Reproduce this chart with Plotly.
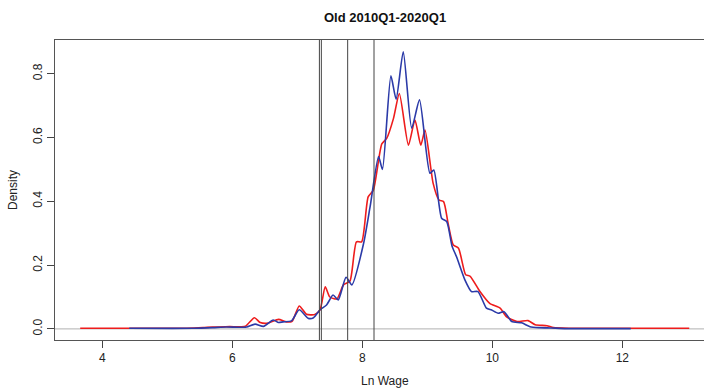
import plotly.graph_objects as go

# ---- data ----
red_x = [3.66, 4.5, 5.3, 5.55, 5.7, 5.96, 6.2, 6.34, 6.43, 6.55, 6.71, 6.83, 6.92, 7.03, 7.14,
         7.27, 7.35, 7.43, 7.50, 7.61, 7.71, 7.81, 7.91, 7.99, 8.09, 8.17, 8.30, 8.375, 8.48,
         8.57, 8.71, 8.81, 8.90, 8.965, 9.09, 9.18, 9.25, 9.32, 9.40, 9.48, 9.59, 9.66, 9.81,
         9.96, 10.12, 10.22, 10.38, 10.55, 10.66, 10.84, 10.94, 11.2, 12.0, 13.03]
red_y = [0.002, 0.002, 0.002, 0.004, 0.006, 0.007, 0.008, 0.035, 0.020, 0.018, 0.030, 0.022,
         0.024, 0.072, 0.046, 0.045, 0.060, 0.132, 0.100, 0.094, 0.138, 0.150, 0.273, 0.273,
         0.414, 0.435, 0.580, 0.597, 0.660, 0.738, 0.576, 0.655, 0.576, 0.623, 0.456, 0.404,
         0.399, 0.331, 0.263, 0.253, 0.170, 0.165, 0.117, 0.080, 0.065, 0.038, 0.023, 0.026,
         0.013, 0.010, 0.004, 0.002, 0.002, 0.002]

blue_x = [4.415, 5.4, 5.7, 5.91, 6.1, 6.22, 6.35, 6.48, 6.63, 6.71, 6.78, 6.91, 7.03, 7.17,
          7.25, 7.35, 7.45, 7.55, 7.63, 7.75, 7.84, 8.02, 8.12, 8.25, 8.31, 8.44, 8.52, 8.63,
          8.76, 8.88, 9.04, 9.10, 9.22, 9.30, 9.38, 9.45, 9.58, 9.68, 9.78, 9.91, 9.99, 10.09,
          10.18, 10.30, 10.45, 10.58, 10.73, 10.9, 11.14, 12.13]
blue_y = [0.002, 0.002, 0.004, 0.006, 0.005, 0.006, 0.015, 0.008, 0.028, 0.020, 0.022, 0.025,
          0.060, 0.033, 0.035, 0.060, 0.075, 0.106, 0.091, 0.162, 0.138, 0.268, 0.383, 0.540,
          0.500, 0.793, 0.720, 0.869, 0.629, 0.718, 0.488, 0.498, 0.347, 0.336, 0.260, 0.226,
          0.153, 0.117, 0.117, 0.065, 0.059, 0.049, 0.054, 0.023, 0.019, 0.007, 0.004, 0.003,
          0.001, 0.001]

vlines_x = [7.34, 7.37, 7.775, 8.18]
x_ticks = [4, 6, 8, 10, 12]
y_ticks = [0.0, 0.2, 0.4, 0.6, 0.8]
title_text = "Old 2010Q1-2020Q1"
x_label = "Ln Wage"
y_label = "Density"

FONT = "Liberation Sans, Arial, sans-serif"

fig = go.Figure()
fig.add_trace(go.Scatter(x=red_x, y=red_y, mode="lines",
                         line=dict(color="#ee1c1c", width=1.6, shape="spline", smoothing=0.6),
                         hoverinfo="skip", showlegend=False))
fig.add_trace(go.Scatter(x=blue_x, y=blue_y, mode="lines",
                         line=dict(color="#2b3aa8", width=1.6, shape="spline", smoothing=0.6),
                         hoverinfo="skip", showlegend=False))

shapes = [dict(type="line", xref="paper", yref="y", x0=0, x1=1, y0=0, y1=0,
               line=dict(color="#b0b0b0", width=1), layer="below")]
for v in vlines_x:
    shapes.append(dict(type="line", xref="x", yref="paper", x0=v, x1=v, y0=0, y1=1,
                       line=dict(color="#444444", width=1)))

fig.update_layout(
    width=704, height=392,
    margin=dict(l=55, r=0, t=40, b=52),
    paper_bgcolor="white", plot_bgcolor="white",
    font=dict(family=FONT, size=12, color="#222222"),
    shapes=shapes,
    showlegend=False,
    annotations=[
        dict(text="<b>" + title_text + "</b>", xref="paper", yref="paper",
             x=(384.5 - 55) / 649, y=1, yshift=23, showarrow=False,
             font=dict(size=13, color="#111111", family=FONT), xanchor="center", yanchor="middle"),
        dict(text=x_label, xref="paper", yref="paper", x=(384.5 - 55) / 649, y=0,
             yshift=-41, showarrow=False, font=dict(size=12, color="#222222", family=FONT),
             xanchor="center", yanchor="middle"),
        dict(text=y_label, xref="paper", yref="paper", x=0, y=(340 - 190) / 300,
             xshift=-42, showarrow=False, textangle=-90,
             font=dict(size=12, color="#222222", family=FONT),
             xanchor="center", yanchor="middle"),
    ],
)
fig.update_xaxes(range=[3.2723, 13.257], tickvals=x_ticks, ticktext=[str(t) for t in x_ticks],
                 ticks="outside", ticklen=7, tickcolor="#444444",
                 showline=True, mirror=True, linecolor="#555555", linewidth=1,
                 showgrid=False, zeroline=False, tickfont=dict(size=12, color="#222222"))
fig.update_yaxes(range=[-0.0348, 0.9056], tickvals=y_ticks, ticktext=["%.1f" % t for t in y_ticks],
                 ticks="outside", ticklen=7, tickcolor="#444444", tickangle=-90,
                 showline=True, mirror=False, linecolor="#555555", linewidth=1,
                 showgrid=False, zeroline=False, tickfont=dict(size=12, color="#222222"))

fig.write_html("out.html")
